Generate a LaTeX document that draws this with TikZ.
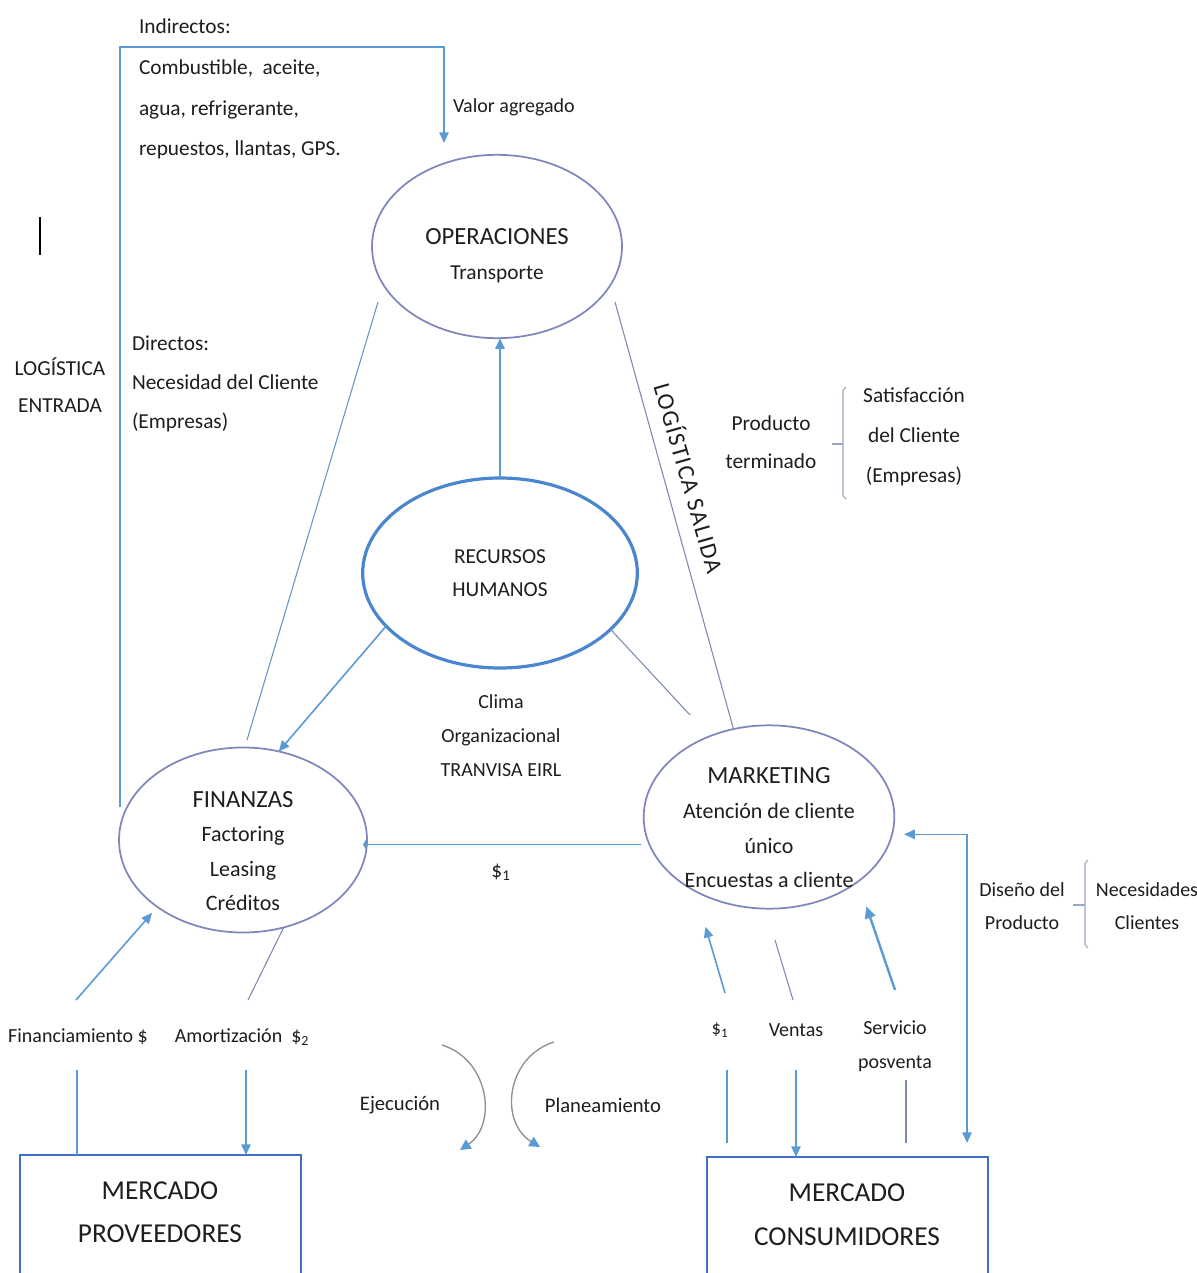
\documentclass[tikz,border=0pt]{standalone}
\usepackage{fontspec}
\setmainfont{Carlito}
\usetikzlibrary{arrows.meta,shapes.geometric,calc}
\definecolor{ellc}{HTML}{7F86BC}
\definecolor{rhc}{HTML}{4A86CF}
\definecolor{boxc}{HTML}{3F6FC6}
\definecolor{arrc}{HTML}{5B9BD5}
\definecolor{thinc}{HTML}{7C8AAE}
\definecolor{txtc}{HTML}{1E1E1E}
\definecolor{arcc}{HTML}{8C9099}
\definecolor{brc}{HTML}{9AA6C4}
\newcommand\fsz[2]{\fontsize{#1}{#2}\selectfont}
\begin{document}
\begin{tikzpicture}[x=0.75pt,y=-0.75pt,
  every node/.style={text=txtc, inner sep=0pt, outer sep=0pt},
  ell/.style={draw=ellc, line width=1.3pt, ellipse, minimum width=187.5pt, minimum height=137.5pt},
  rhell/.style={draw=rhc, line width=2.4pt, ellipse, minimum width=206pt, minimum height=142.5pt},
  boxst/.style={draw=boxc, line width=2.2pt, rectangle, minimum width=210.75pt, minimum height=112.5pt, anchor=north west},
  arr/.style={draw=arrc, line width=1.2pt, -{Triangle[length=8pt,width=7pt]}},
  bigarr/.style={draw=arrc, line width=1.8pt, -{Triangle[length=9pt,width=8pt]}},
  bline/.style={draw=arrc, line width=1.1pt},
  thin/.style={draw=thinc, line width=0.8pt},
  arcst/.style={draw=arcc, line width=1pt, -{Triangle[length=8pt,width=8pt,color=arrc]}},
  brk/.style={draw=brc, line width=0.8pt},
  lab/.style={font=\fsz{16}{30}, align=center},
  small/.style={font=\fsz{15}{25}, align=center}
]
\useasboundingbox (0,0) rectangle (1196,1273);
\fill[white] (0,0) rectangle (1196,1273);
\clip (0,0) rectangle (1196,1273);

% ---- ellipses
\node[ell] (ops) at (497,246.5) {};
\node[ell, minimum width=186pt, minimum height=138.75pt] (fin) at (243,840) {};
\node[ell, minimum width=188pt] (mk) at (769,817) {};
\node[rhell] (rh) at (500,573) {};

% ---- ellipse texts
\node[font=\fsz{16}{26}, align=center] (opst) at (497,256) {{\fsz{18.5}{26}OPERACIONES}\\Transporte};
\node[font=\fsz{16}{25}, align=center] (rht) at (500,573) {RECURSOS\\HUMANOS};
\node[font=\fsz{16.5}{25.8}, align=center] (fint) at (243,851) {{\fsz{18.5}{25.8}FINANZAS}\\Factoring\\Leasing\\Créditos};
\node[font=\fsz{16.5}{26}, align=center] (mkt) at (769,828) {{\fsz{18.5}{26}MARKETING}\\Atención de cliente\\único\\Encuestas a cliente};

% ---- boxes
\node[boxst] (prov) at (20,1155) {};
\node[font=\fsz{20.5}{32}, align=center] (provt) at (160,1212) {MERCADO\\PROVEEDORES};
\node[boxst] (cons) at (707,1157) {};
\node[font=\fsz{20.5}{33}, align=center] (const) at (847,1215) {MERCADO\\CONSUMIDORES};

% ---- free labels
\node[anchor=west, align=left, font=\fsz{16}{30.5}] (indir) at (139,89) {Indirectos:\\Combustible,\hspace{0.45em}aceite,\\agua, refrigerante,\\repuestos, llantas, GPS.};
\node[anchor=west, font=\fsz{15}{25}] (valor) at (453,107) {Valor agregado};
\node[lab, font=\fsz{16}{28}] (logent) at (60,385) {LOGÍSTICA\\ENTRADA};
\node[anchor=west, align=left, font=\fsz{16}{29.3}] (direct) at (132,384) {Directos:\\Necesidad del Cliente\\(Empresas)};
\node[font=\fsz{18}{20}\addfontfeatures{LetterSpace=6}, rotate=-74] (logsal) at (690,478) {LOGÍSTICA SALIDA};
\node[lab, font=\fsz{16}{28.5}] (prodt) at (771,442) {Producto\\terminado};
\node[lab, font=\fsz{16}{30}] (satis) at (914,437) {Satisfacción\\del Cliente\\(Empresas)};
\node[small, font=\fsz{15}{25.5}] (clima) at (501,736) {Clima\\Organizacional\\TRANVISA EIRL};
\node[font=\fsz{16}{20}] (s1) at (501,872) {\$\textsubscript{1}};
\node[small] (disen) at (1022,906) {Diseño del\\Producto};
\node[small] (neces) at (1147,906) {Necesidades\\Clientes};
\node[font=\fsz{15}{20}] (finan) at (78,1037) {Financiamiento \$};
\node[font=\fsz{15}{20}] (amort) at (242,1037) {Amortización \ \$\textsubscript{2}};
\node[font=\fsz{15.5}{20}] (ejec) at (400,1105) {Ejecución};
\node[font=\fsz{15.5}{20}] (plan) at (603,1105) {Planeamiento};
\node[font=\fsz{14}{20}] (s1b) at (720,1030) {\$\textsubscript{1}};
\node[font=\fsz{15}{20}] (vent) at (796,1030) {Ventas};
\node[small, font=\fsz{15}{25.5}] (serv) at (895,1046) {Servicio\\posventa};

% ---- coordinates for free ends
\coordinate (inA) at (120,807);
\coordinate (inC) at (120,47);
\coordinate (inB) at (444,143);
\coordinate (ofA) at (378,302);
\coordinate (ofB) at (247,740);
\coordinate (omA) at (615,302);
\coordinate (rmB) at (690,715);
\coordinate (faA) at (76,1000);
\coordinate (amB) at (248,1000);
\coordinate (fvA) at (77,1070);
\coordinate (avA) at (246,1070);
\coordinate (p1A) at (725,993);
\coordinate (vlA) at (775,940);
\coordinate (vlB) at (793,1000);
\coordinate (vaA) at (796,1070);
\coordinate (svA) at (895,990);
\coordinate (p1vA) at (727,1070);
\coordinate (p1vB) at (727,1143);
\coordinate (svvA) at (906,1080);
\coordinate (svvB) at (906,1143);
\coordinate (dB) at (967,1143);
\coordinate (ejA) at (442,1045);
\coordinate (ejB) at (460,1150);
\coordinate (plA) at (554,1042);
\coordinate (plB) at (540,1147);

% ---- connectors
\draw[arr] (inA) -- (inC) -| (inB);
\draw[arr] (rh.north) -- (rh.north |- ops.south);
\draw[thin, draw=arrc!70!thinc] (ofA) -- (ofB);
\draw[thin] (omA) -- (mk.112);
\draw[arr] (rh.205) -- (fin.68);
\draw[thin] (rh.333) -- (rmB);
\draw[arr, -{Triangle[length=2.5pt,width=8pt]}, shorten <=6pt, shorten >=-3pt] (mk.193) -- (mk.193 -| fin.east);
\draw[arr, shorten >=6pt] (faA) -- (fin.218);
\draw[thin] (fin.295) -- (amB);
\draw[bline] (fvA) -- (fvA |- prov.north);
\draw[arr] (avA) -- (avA |- prov.north);
\draw[arcst] (ejA) .. controls (490,1060) and (497,1125) .. (ejB);
\draw[arcst] (plA) .. controls (506,1057) and (499,1122) .. (plB);
\draw[arr, shorten >=28pt] (p1A) -- (mk.225);
\draw[thin] (vlA) -- (vlB);
\draw[arr] (vaA) -- (vaA |- cons.north);
\draw[bigarr, shorten >=19.5pt] (svA) -- (mk.324);
\draw[bline] (p1vA) -- (p1vB);
\draw[bline, draw=thinc] (svvA) -- (svvB);
\draw[arr, {Triangle[length=8pt,width=7pt]}-{Triangle[length=8pt,width=7pt]}, shorten <=9pt] (mk.352) -| (dB);

% ---- brackets and cursor
\draw[brk] (846,387) -- (843,390) -- (843,496) -- (846,499);
\draw[brk] (832,444) -- (843,444);
\draw[brk] (1088,860) -- (1085,863) -- (1085,945) -- (1088,948);
\draw[brk] (1073,905) -- (1085,905);
\draw[black, line width=1.4pt] (40,217) -- (40,255);
\end{tikzpicture}
\end{document}
